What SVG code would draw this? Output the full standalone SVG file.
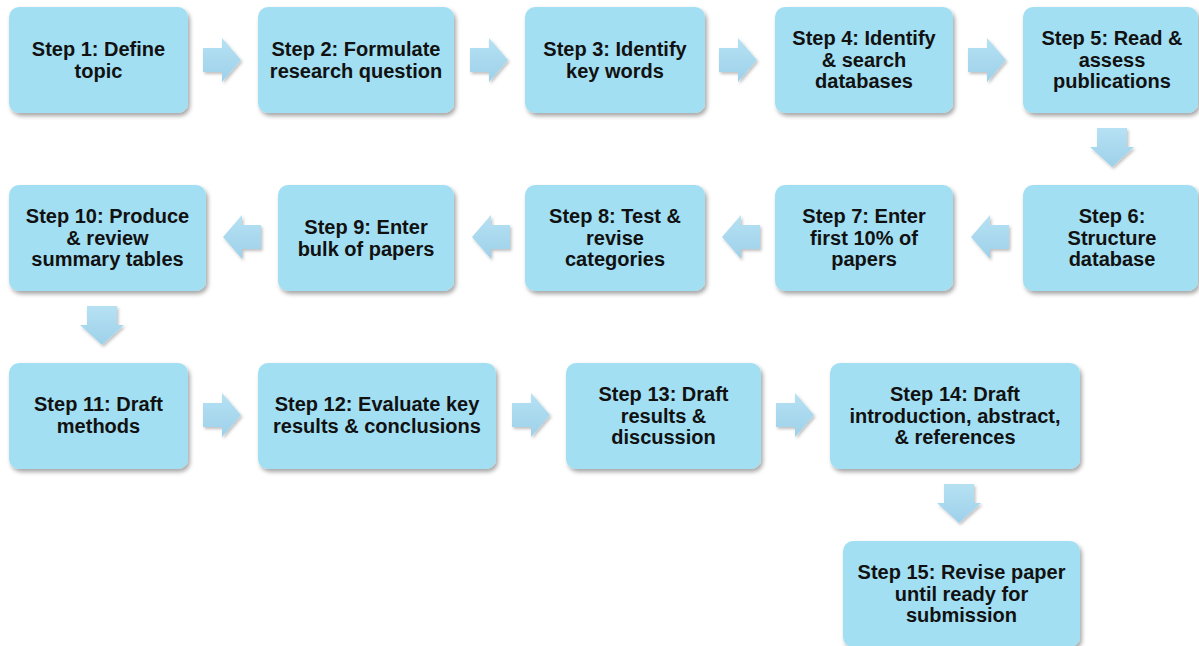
<svg xmlns="http://www.w3.org/2000/svg" width="1199" height="646" viewBox="0 0 1199 646">
<style>
.box{fill:#a2dff3;filter:url(#sh)}
.t{font-family:"Liberation Sans",Arial,sans-serif;font-weight:bold;font-size:20px;fill:#111;text-anchor:middle}
.arr{fill:url(#ag);filter:url(#ash)}
</style>
<defs>
<filter id="sh" x="-10%" y="-10%" width="125%" height="130%">
<feDropShadow dx="2" dy="3" stdDeviation="2" flood-color="#000" flood-opacity="0.35"/>
</filter>
<filter id="ash" x="-20%" y="-20%" width="150%" height="150%">
<feDropShadow dx="1.5" dy="2" stdDeviation="1.5" flood-color="#000" flood-opacity="0.25"/>
</filter>
<linearGradient id="ag" x1="0" y1="0" x2="0" y2="1">
<stop offset="0" stop-color="#b6e1f3"/>
<stop offset="1" stop-color="#9dd1ea"/>
</linearGradient>
<path id="ra" d="M0,-12 H19 V-22 L38,0 L19,22 V12 H0 Z"/>
<path id="la" d="M0,0 L19,-22 V-12 H38 V12 H19 V22 Z"/>
<path id="da" d="M-15,0 H15 V19 H22 L0,39 L-22,19 H-15 Z"/>
</defs>
<rect width="1199" height="646" fill="#fff"/>
<g id="connectors">
<use href="#ra" class="arr" x="203" y="60"/>
<use href="#ra" class="arr" x="470" y="60"/>
<use href="#ra" class="arr" x="719" y="60"/>
<use href="#ra" class="arr" x="968" y="60"/>
<use href="#da" class="arr" x="1112" y="128"/>
<use href="#la" class="arr" x="971" y="237"/>
<use href="#la" class="arr" x="722" y="237"/>
<use href="#la" class="arr" x="472" y="237"/>
<use href="#la" class="arr" x="223" y="237"/>
<use href="#da" class="arr" x="102" y="306"/>
<use href="#ra" class="arr" x="203" y="415"/>
<use href="#ra" class="arr" x="512" y="415"/>
<use href="#ra" class="arr" x="776" y="415"/>
<use href="#da" class="arr" x="959" y="484"/>
</g>
<g id="n1"><rect class="box" x="9" y="7" width="179" height="106" rx="10"/><text class="t" x="98.5" y="56">Step 1: Define</text><text class="t" x="98.5" y="77.5">topic</text></g>
<g id="n2"><rect class="box" x="258" y="7" width="196" height="106" rx="10"/><text class="t" x="356" y="56">Step 2: Formulate</text><text class="t" x="356" y="77.5">research question</text></g>
<g id="n3"><rect class="box" x="525" y="7" width="180" height="106" rx="10"/><text class="t" x="615" y="56">Step 3: Identify</text><text class="t" x="615" y="77.5">key words</text></g>
<g id="n4"><rect class="box" x="775" y="7" width="178" height="106" rx="10"/><text class="t" x="864" y="45">Step 4: Identify</text><text class="t" x="864" y="66.5">&amp; search</text><text class="t" x="864" y="88">databases</text></g>
<g id="n5"><rect class="box" x="1023" y="7" width="175" height="106" rx="10"/><text class="t" x="1112" y="45">Step 5: Read &amp;</text><text class="t" x="1112" y="66.5">assess</text><text class="t" x="1112" y="88">publications</text></g>
<g id="n6"><rect class="box" x="1023" y="185" width="175" height="106" rx="10"/><text class="t" x="1112" y="223">Step 6:</text><text class="t" x="1112" y="244.5">Structure</text><text class="t" x="1112" y="266">database</text></g>
<g id="n7"><rect class="box" x="775" y="185" width="178" height="106" rx="10"/><text class="t" x="864" y="223">Step 7: Enter</text><text class="t" x="864" y="244.5">first 10% of</text><text class="t" x="864" y="266">papers</text></g>
<g id="n8"><rect class="box" x="525" y="185" width="180" height="106" rx="10"/><text class="t" x="615" y="223">Step 8: Test &amp;</text><text class="t" x="615" y="244.5">revise</text><text class="t" x="615" y="266">categories</text></g>
<g id="n9"><rect class="box" x="278" y="185" width="176" height="106" rx="10"/><text class="t" x="366" y="234">Step 9: Enter</text><text class="t" x="366" y="255.5">bulk of papers</text></g>
<g id="n10"><rect class="box" x="9" y="185" width="197" height="106" rx="10"/><text class="t" x="107.5" y="223">Step 10: Produce</text><text class="t" x="107.5" y="244.5">&amp; review</text><text class="t" x="107.5" y="266">summary tables</text></g>
<g id="n11"><rect class="box" x="9" y="363" width="179" height="106" rx="10"/><text class="t" x="98.5" y="411">Step 11: Draft</text><text class="t" x="98.5" y="432.5">methods</text></g>
<g id="n12"><rect class="box" x="258" y="363" width="238" height="106" rx="10"/><text class="t" x="377" y="411">Step 12: Evaluate key</text><text class="t" x="377" y="432.5">results &amp; conclusions</text></g>
<g id="n13"><rect class="box" x="566" y="363" width="195" height="106" rx="10"/><text class="t" x="663.5" y="401">Step 13: Draft</text><text class="t" x="663.5" y="422.5">results &amp;</text><text class="t" x="663.5" y="444">discussion</text></g>
<g id="n14"><rect class="box" x="830" y="363" width="250" height="106" rx="10"/><text class="t" x="955" y="401">Step 14: Draft</text><text class="t" x="955" y="422.5">introduction, abstract,</text><text class="t" x="955" y="444">&amp; references</text></g>
<g id="n15"><rect class="box" x="843" y="541" width="237" height="106" rx="10"/><text class="t" x="961.5" y="579">Step 15: Revise paper</text><text class="t" x="961.5" y="600.5">until ready for</text><text class="t" x="961.5" y="622">submission</text></g>
</svg>
